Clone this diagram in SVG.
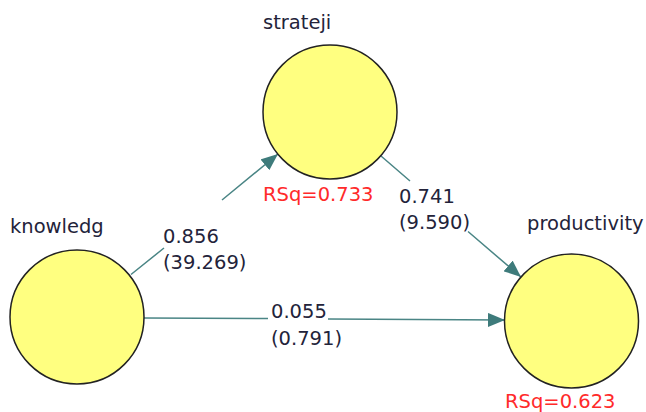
<svg xmlns="http://www.w3.org/2000/svg" width="646" height="412" viewBox="0 0 646 412">
<style>
.node{fill:#ffff80;stroke:#222;stroke-width:1.5}
.lbl{font-family:"DejaVu Sans",Verdana,sans-serif;font-size:19.5px;fill:#23233a}
.rsq{font-family:"DejaVu Sans",Verdana,sans-serif;font-size:19.5px;fill:#ff2a2a}
.edge{fill:none;stroke:#4a8585;stroke-width:1.5}
</style>
<defs>
<marker id="arr" markerUnits="userSpaceOnUse" markerWidth="18" markerHeight="14" refX="17" refY="7" orient="auto">
<path d="M0,0 L17,7 L0,14 z" fill="#3e7b7b"/>
</marker>
</defs>
<rect width="646" height="412" fill="#fff"/>
<g id="connectors">
<path class="edge" d="M131,274.5 L164,248 M222,200 L278,154" marker-end="url(#arr)"/>
<path class="edge" d="M381,156 L410,181 M468,231.5 L521,277" marker-end="url(#arr)"/>
<path class="edge" d="M144,318 L268,318.5 M328,319 L505,320" marker-end="url(#arr)"/>
<text class="lbl" x="163" y="243">0.856</text>
<text class="lbl" x="163" y="269">(39.269)</text>
<text class="lbl" x="399" y="203">0.741</text>
<text class="lbl" x="399" y="229">(9.590)</text>
<text class="lbl" x="271" y="318">0.055</text>
<text class="lbl" x="271" y="345">(0.791)</text>
</g>
<g id="strateji">
<circle class="node" cx="330" cy="112" r="67"/>
<text class="lbl" x="263" y="29">strateji</text>
<text class="rsq" x="263" y="201">RSq=0.733</text>
</g>
<g id="knowledg">
<circle class="node" cx="77" cy="317" r="67"/>
<text class="lbl" x="10" y="233">knowledg</text>
</g>
<g id="productivity">
<circle class="node" cx="571.5" cy="321" r="67"/>
<text class="lbl" x="527" y="230">productivity</text>
<text class="rsq" x="505" y="408">RSq=0.623</text>
</g>
</svg>
